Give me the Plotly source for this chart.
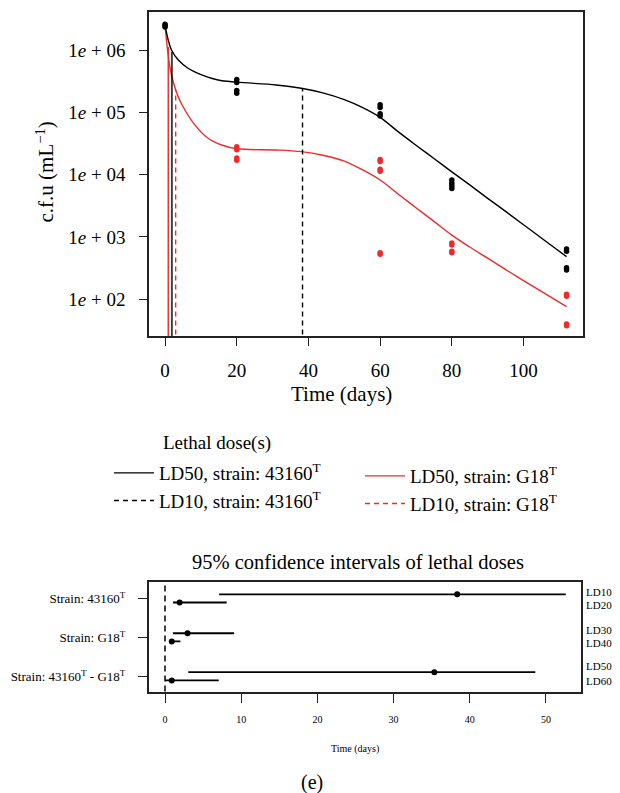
import plotly.graph_objects as go

FONT = "Liberation Serif"
OFF = 8                      # page body margin of the html page
W, H = 620 - OFF, 793 - OFF  # figure size
RED = "#f02a2a"
BLK = "#000000"

# ---------------- data: survival curves (c.f.u / mL) ----------------
curve_t_black = [0, 0.87, 1.8, 3.7, 6.4, 10.2, 14.8, 20, 31, 38, 44, 50, 55, 60, 65, 70, 75, 80,
                 85, 90, 95, 100, 106, 112]
curve_cfu_black = [2.5e6, 1.45e6, 1.0e6, 6.9e5, 5.1e5, 4.0e5, 3.3e5, 3.05e5, 2.75e5, 2.43e5,
                   2.05e5, 1.6e5, 1.2e5, 8.3e4, 4.9e4, 2.97e4, 1.82e4, 1.11e4,
                   6.84e3, 4.17e3, 2.57e3, 1.57e3, 8.7e2, 483]
curve_t_red = [0, 0.7, 1.34, 2.27, 3.66, 5.5, 8.3, 12.0, 15.8, 20, 31, 38, 44, 50, 55, 60, 65, 70,
               75, 80, 85, 90, 95, 100, 106, 112]
curve_cfu_red = [2.5e6, 1.0e6, 5.4e5, 3.1e5, 1.78e5, 1.1e5, 6.3e4, 3.83e4, 2.99e4, 2.6e4, 2.49e4,
                 2.34e4, 2.05e4, 1.65e4, 1.2e4, 8.2e3, 4.9e3, 2.95e3, 1.78e3, 1.07e3, 6.9e2,
                 4.57e2, 3.0e2, 2.0e2, 1.23e2, 76]

# observed counts
obs_t_black = [0, 0, 20, 20, 20, 20, 60, 60, 60, 60, 80, 80, 80, 80, 112, 112, 112, 112]
obs_cfu_black = [2.6e6, 2.35e6, 3.35e5, 3.0e5, 2.25e5, 2.02e5, 1.32e5, 1.2e5, 9.5e4, 8.7e4,
                 8.2e3, 7.3e3, 6.6e3, 6.0e3, 640, 590, 320, 295]
obs_t_red = [0, 0, 20, 20, 20, 20, 60, 60, 60, 60, 60, 60, 80, 80, 80, 80, 112, 112, 112, 112]
obs_cfu_red = [2.5e6, 2.4e6, 2.8e4, 2.5e4, 1.85e4, 1.7e4, 1.75e4, 1.62e4, 1.22e4, 1.13e4, 560, 530,
               800, 740, 590, 560, 120, 112, 40, 37.5]

# ---------------- data: lethal doses and 95% CI (days) ----------------
ld_row_labels = ["LD10", "LD20", "LD30", "LD40", "LD50", "LD60"]
ld_est = [38.35, 1.92, 2.96, 0.89, 35.35, 0.89]
ld_lo = [7.1, 1.04, 1.04, 0.73, 3.06, 0.0]
ld_hi = [52.6, 8.09, 9.07, 2.02, 48.6, 7.05]
strain_labels = ["Strain: 43160<sup>T</sup>", "Strain: G18<sup>T</sup>",
                 "Strain: 43160<sup>T</sup> - G18<sup>T</sup>"]
# c.f.u level where each lethal-dose line meets its curve
ld_line_top = {"ld50_43160": 9.3e5, "ld10_43160": 2.43e5, "ld50_g18": 1.12e6, "ld10_g18": 2.34e5}

y_ticks = [1e2, 1e3, 1e4, 1e5, 1e6]
y_ticktext = ["1<i>e</i> + 02", "1<i>e</i> + 03", "1<i>e</i> + 04", "1<i>e</i> + 05", "1<i>e</i> + 06"]
x_ticks = [0, 20, 40, 60, 80, 100]
x2_ticks = [0, 10, 20, 30, 40, 50]


# ---------------- layout helpers (window pixels -> paper) ----------------
def px_x(p):
    return (p - OFF) / W


def px_y(p):
    return 1 - (p - OFF) / H


fig = go.Figure()

# curves
fig.add_trace(go.Scatter(x=curve_t_red, y=curve_cfu_red, mode="lines",
                         line=dict(color=RED, width=1.4, shape="spline", smoothing=1.0),
                         showlegend=False, hoverinfo="skip"))
fig.add_trace(go.Scatter(x=curve_t_black, y=curve_cfu_black, mode="lines",
                         line=dict(color=BLK, width=1.4, shape="spline", smoothing=1.0),
                         showlegend=False, hoverinfo="skip"))

# lethal-dose vertical lines (also the legend entries)
floor = 10
fig.add_trace(go.Scatter(x=[ld_est[1], ld_est[1]], y=[floor, ld_line_top["ld50_43160"]], mode="lines",
                         line=dict(color=BLK, width=1.4), name="LD50, strain: 43160<sup>T</sup>",
                         legend="legend"))
fig.add_trace(go.Scatter(x=[ld_est[0], ld_est[0]], y=[floor, ld_line_top["ld10_43160"]], mode="lines",
                         line=dict(color=BLK, width=1.4, dash="5px,4px"),
                         name="LD10, strain: 43160<sup>T</sup>", legend="legend"))
fig.add_trace(go.Scatter(x=[ld_est[3], ld_est[3]], y=[floor, ld_line_top["ld50_g18"]], mode="lines",
                         line=dict(color=RED, width=1.4), name="LD50, strain: G18<sup>T</sup>",
                         legend="legend2"))
fig.add_trace(go.Scatter(x=[ld_est[2], ld_est[2]], y=[floor, ld_line_top["ld10_g18"]], mode="lines",
                         line=dict(color=RED, width=1.4, dash="5px,4px"),
                         name="LD10, strain: G18<sup>T</sup>", legend="legend2"))

# observations
fig.add_trace(go.Scatter(x=obs_t_red, y=obs_cfu_red, mode="markers", marker=dict(color=RED, size=5.5),
                         showlegend=False, hoverinfo="skip"))
fig.add_trace(go.Scatter(x=obs_t_black, y=obs_cfu_black, mode="markers", marker=dict(color=BLK, size=5.5),
                         showlegend=False, hoverinfo="skip"))

# ---------------- confidence interval panel ----------------
group_pos = [3, 2, 1]
row_pos = [g + off for g in group_pos for off in (0.11, -0.10)]
fig.add_trace(go.Scatter(
    x=ld_est, y=row_pos, mode="markers",
    marker=dict(color=BLK, size=6),
    error_x=dict(type="data", symmetric=False,
                 array=[h - e for h, e in zip(ld_hi, ld_est)],
                 arrayminus=[e - l for e, l in zip(ld_est, ld_lo)],
                 width=0, thickness=1.8, color=BLK),
    xaxis="x2", yaxis="y2", showlegend=False, hoverinfo="skip"))

axis_common = dict(showline=True, mirror=True, linecolor="#222", linewidth=1.5,
                   ticks="outside", tickcolor="#222", tickwidth=1.3,
                   showgrid=False, zeroline=False)

fig.update_layout(
    width=W, height=H, margin=dict(l=0, r=0, t=0, b=0),
    paper_bgcolor="white", plot_bgcolor="white",
    font=dict(family=FONT, color="black"),
    xaxis=dict(domain=[px_x(149), px_x(582.6)], range=[-4.48, 116.48], tickvals=x_ticks,
               ticklen=8, ticklabelstandoff=8, tickfont=dict(size=19), anchor="y", **axis_common),
    yaxis=dict(domain=[px_y(336), px_y(12.3)], type="log", range=[1.411, 6.605], tickvals=y_ticks,
               ticktext=y_ticktext, ticklen=8, ticklabelstandoff=10, tickfont=dict(size=19), anchor="x",
               **axis_common),
    xaxis2=dict(domain=[px_x(149), px_x(581)], range=[-2.1, 54.6], tickvals=x2_ticks,
                ticklen=9, ticklabelstandoff=8, tickfont=dict(size=10), anchor="y2",
                **{**axis_common, "linewidth": 2}),
    yaxis2=dict(domain=[px_y(691.5), px_y(582)], range=[0.615, 3.426], tickvals=group_pos,
                ticktext=strain_labels, ticklen=9, ticklabelstandoff=10, tickfont=dict(size=13), anchor="x2",
                **{**axis_common, "linewidth": 2}),
    legend=dict(x=px_x(109), y=px_y(454), xanchor="left", yanchor="top", font=dict(size=19),
                bgcolor="rgba(0,0,0,0)", tracegroupgap=0, traceorder="normal", itemwidth=40),
    legend2=dict(x=px_x(360), y=px_y(457), xanchor="left", yanchor="top", font=dict(size=19),
                 bgcolor="rgba(0,0,0,0)", tracegroupgap=0, traceorder="normal", itemwidth=40),
    shapes=[dict(type="line", xref="x2", yref="y2 domain", x0=0, x1=0, y0=0, y1=1,
                 line=dict(color=BLK, width=1.5, dash="6px,4px"))],
)

annotations = [
    dict(text="c.f.u (mL<sup>−1</sup>)", x=px_x(45.5), y=px_y(172), textangle=-90, font=dict(size=21)),
    dict(text="Time (days)", x=px_x(342), y=px_y(394), font=dict(size=21)),
    dict(text="Lethal dose(s)", x=px_x(161), y=px_y(443), xanchor="left", font=dict(size=19)),
    dict(text="95% confidence intervals of lethal doses", x=px_x(358), y=px_y(562), font=dict(size=20.5)),
    dict(text="Time (days)", x=px_x(355), y=px_y(749), font=dict(size=10)),
    dict(text="(e)", x=px_x(312), y=px_y(782), font=dict(size=20)),
]
for a in annotations:
    a.update(xref="paper", yref="paper", showarrow=False)
    a.setdefault("xanchor", "center")
    a.setdefault("yanchor", "middle")

label_y = [3.16, 2.84, 2.187, 1.862, 1.272, 0.872]
for lab, yy in zip(ld_row_labels, label_y):
    annotations.append(dict(text=lab, x=px_x(584), y=yy, xref="paper", yref="y2", xanchor="left",
                            yanchor="middle", showarrow=False, font=dict(size=11)))

fig.update_layout(annotations=annotations)
fig.write_html("out.html")
